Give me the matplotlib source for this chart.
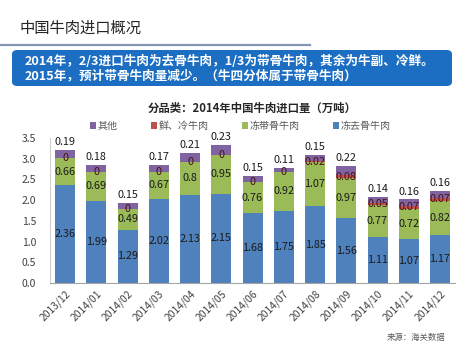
import numpy as np
import matplotlib.pyplot as plt
from matplotlib.patches import FancyBboxPatch
from matplotlib.lines import Line2D

plt.rcParams['font.family'] = ['Noto Sans CJK SC', 'DejaVu Sans']

# 月份与各品类进口量（万吨）
months = ['2013/12', '2014/01', '2014/02', '2014/03', '2014/04', '2014/05', '2014/06',
          '2014/07', '2014/08', '2014/09', '2014/10', '2014/11', '2014/12']
boneless = [2.36, 1.99, 1.29, 2.02, 2.13, 2.15, 1.68, 1.75, 1.85, 1.56, 1.11, 1.07, 1.17]
bone_in = [0.66, 0.69, 0.49, 0.67, 0.8, 0.95, 0.76, 0.92, 1.07, 0.97, 0.77, 0.72, 0.82]
chilled = [0, 0, 0, 0, 0, 0, 0, 0, 0.02, 0.08, 0.05, 0.07, 0.07]
other = [0.19, 0.18, 0.15, 0.17, 0.21, 0.23, 0.15, 0.11, 0.15, 0.22, 0.14, 0.16, 0.16]

c_blue, c_green, c_red, c_purple = '#4F81BD', '#9BBB59', '#C0504D', '#8064A2'

fig = plt.figure(figsize=(4.65, 3.48), dpi=100)

# 页面标题与说明框
fig.text(20 / 465, 1 - 28 / 348, '中国牛肉进口概况', fontsize=11, color='#262626',
         va='center', ha='left')
fig.add_artist(Line2D([0, 310 / 465], [1 - 45 / 348] * 2, color='#8496B0', lw=1.6))
box = FancyBboxPatch((12 / 465, 1 - 86 / 348), 440 / 465, 36 / 348,
                     boxstyle='round,pad=0,rounding_size=0.012',
                     transform=fig.transFigure, fc='#1B6EC2', ec='none')
fig.add_artist(box)
fig.text(25 / 465, 1 - 61 / 348, '2014年，2/3进口牛肉为去骨牛肉，1/3为带骨牛肉，其余为牛副、冷鲜。',
         fontsize=9.1, color='white', fontweight='bold', va='center')
fig.text(25 / 465, 1 - 76 / 348, '2015年，预计带骨牛肉量减少。（牛四分体属于带骨牛肉）',
         fontsize=9.1, color='white', fontweight='bold', va='center')

ax = fig.add_axes([50 / 465, 1 - 283 / 348, 405 / 465, 145 / 348])
x = np.arange(len(months))
w = 0.64
b1 = ax.bar(x, boneless, w, color=c_blue, label='冻去骨牛肉', zorder=2)
bot = np.array(boneless)
b2 = ax.bar(x, bone_in, w, bottom=bot, color=c_green, label='冻带骨牛肉', zorder=2)
bot = bot + np.array(bone_in)
b3 = ax.bar(x, chilled, w, bottom=bot, color=c_red, label='鲜、冷牛肉', zorder=2)
bot = bot + np.array(chilled)
b4 = ax.bar(x, other, w, bottom=bot, color=c_purple, label='其他', zorder=2)

lab_kw = dict(fontsize=7.8, color='#1a1a1a')
ax.bar_label(b1, labels=[f'{v:g}' for v in boneless], label_type='center', **lab_kw)
ax.bar_label(b2, labels=[f'{v:g}' for v in bone_in], label_type='center', **lab_kw)
ax.bar_label(b3, labels=[f'{v:g}' for v in chilled], label_type='center',
             fontsize=7.8, color='#4a1010')
ax.bar_label(b4, labels=[f'{v:g}' for v in other], padding=2, **lab_kw)

ax.set_xlim(-0.48, 12.48)
ax.set_ylim(0, 3.5)
ax.set_yticks(np.arange(0, 3.51, 0.5))
ax.set_yticklabels([f'{v:.1f}' for v in np.arange(0, 3.51, 0.5)])
ax.set_xticks(x)
ax.set_xticklabels(months, rotation=45, ha='right', rotation_mode='anchor')
ax.tick_params(axis='y', labelsize=7.5, colors='#404040', length=0, pad=10)
ax.tick_params(axis='x', labelsize=7.4, colors='#404040', length=0, pad=4)
for s in ['top', 'right']:
    ax.spines[s].set_visible(False)
ax.spines['left'].set_color('#D0D0D0')
ax.spines['bottom'].set_color('#A6A6A6')

ax.set_title('分品类：2014年中国牛肉进口量（万吨）', fontsize=8.2, fontweight='bold',
             color='#262626', pad=19)
handles = [b4, b3, b2, b1]
ax.legend(handles, [h.get_label() for h in handles], ncol=4, loc='lower center',
          bbox_to_anchor=(0.47, 0.985), frameon=False, fontsize=7.2, labelcolor='#595959',
          handlelength=0.6, handleheight=0.6, handletextpad=0.2, columnspacing=3.3)

fig.text(445 / 465, 1 - 337 / 348, '来源：海关数据', fontsize=6, color='#595959',
         ha='right', va='center')

fig.savefig('out.png', dpi=100)
